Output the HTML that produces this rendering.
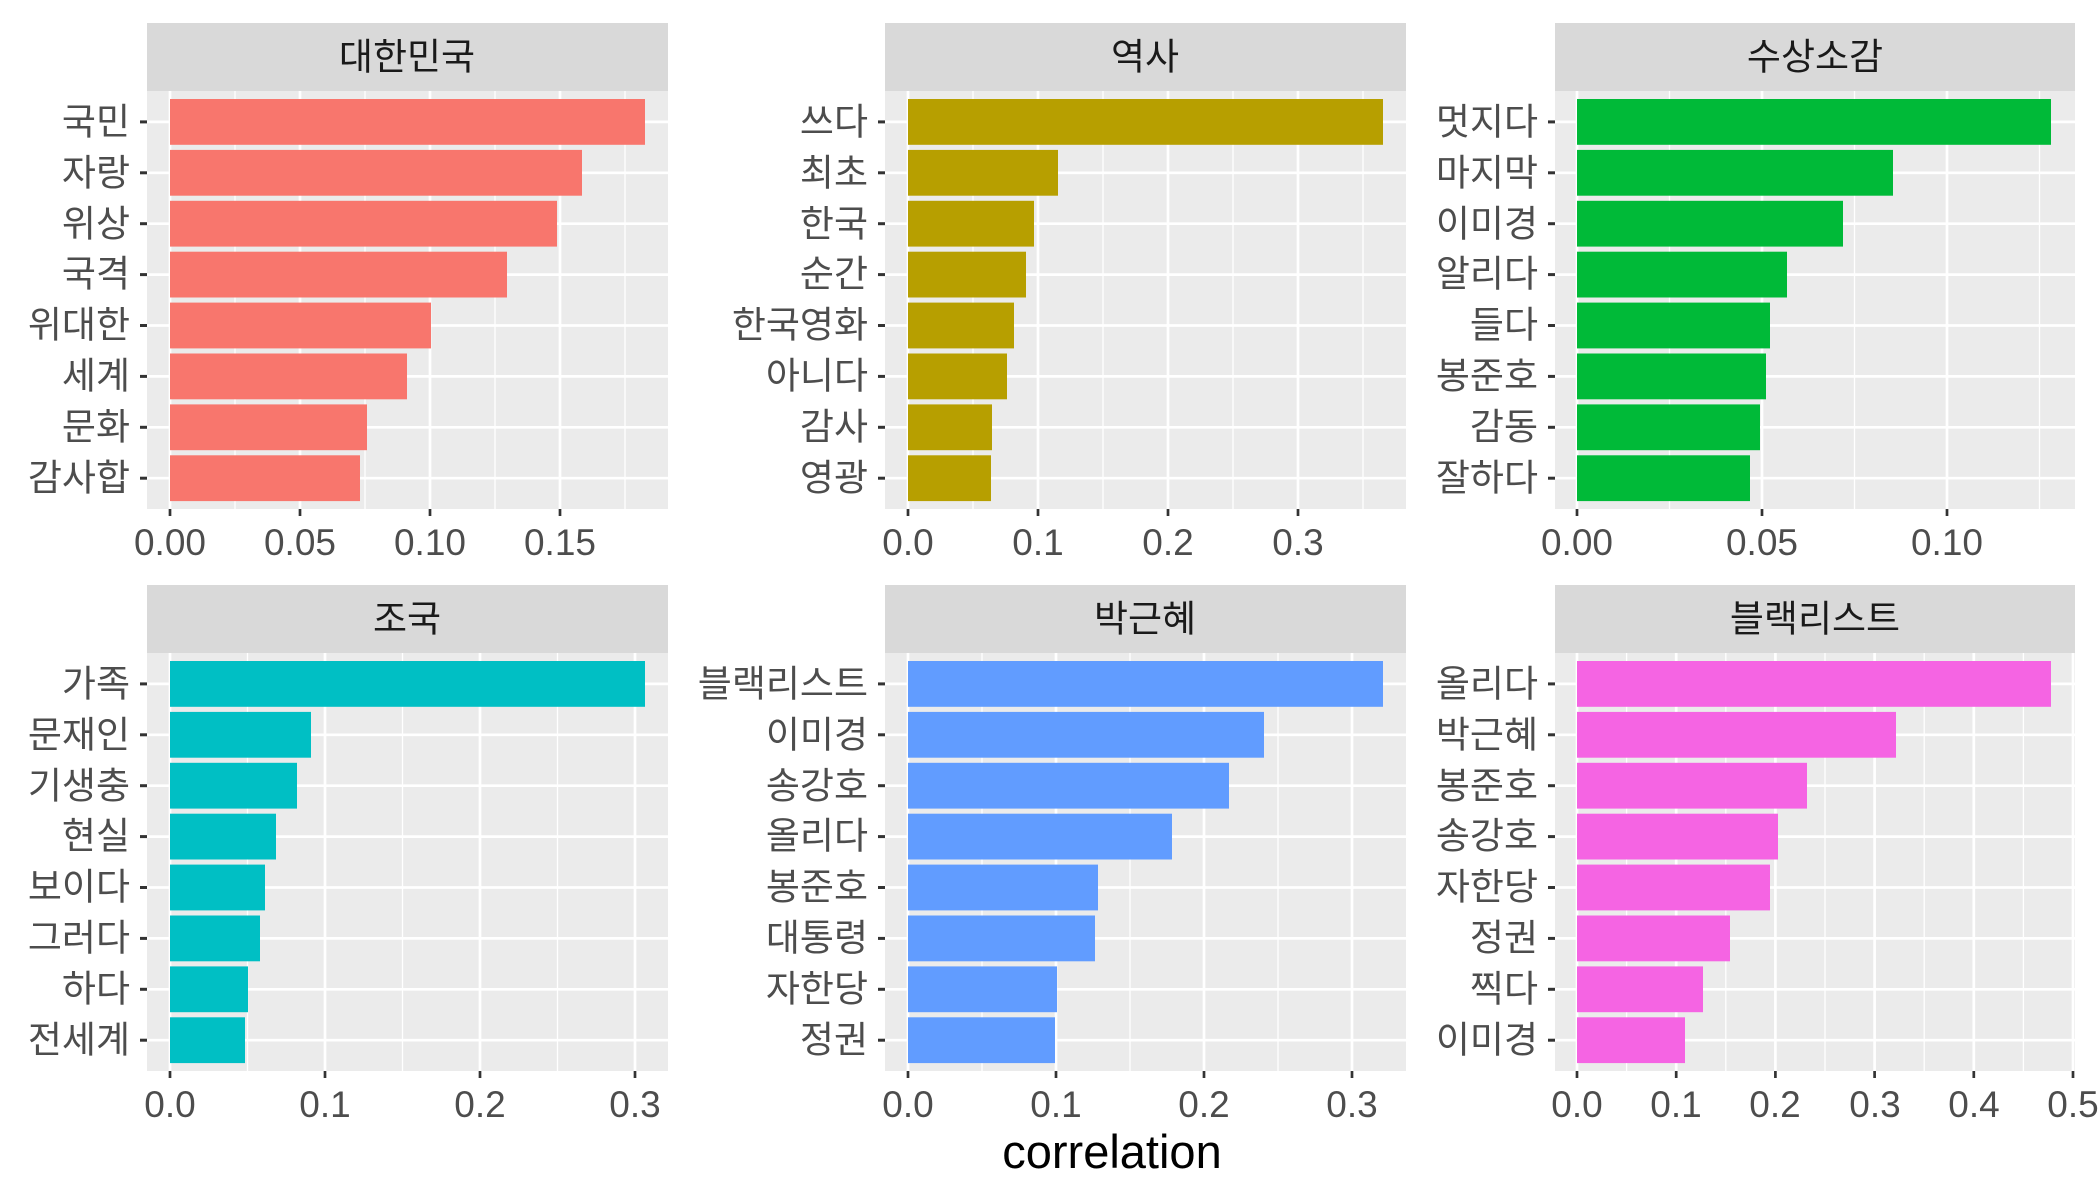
<!DOCTYPE html>
<html><head><meta charset="utf-8"><style>
body{margin:0;background:#fff}
svg{display:block}
text{font-family:"Liberation Sans","Noto Sans CJK KR",sans-serif;}
.yl{font-size:37px;fill:#4D4D4D;text-anchor:end;dominant-baseline:central}
.xl{font-size:37px;fill:#4D4D4D;text-anchor:middle}
.st{font-size:37px;fill:#1A1A1A;text-anchor:middle;dominant-baseline:central}
</style></head><body>
<svg id="s" width="2100" height="1200" xmlns="http://www.w3.org/2000/svg">
<g id="shapes"></g>
<text class="st" x="407" y="57">대한민국</text>
<text class="st" x="1145" y="57">역사</text>
<text class="st" x="1815" y="57">수상소감</text>
<text class="st" x="407" y="619">조국</text>
<text class="st" x="1145" y="619">박근혜</text>
<text class="st" x="1815" y="619">블랙리스트</text>
<g>
<text class="yl" x="130" y="122">국민</text><text class="yl" x="130" y="173">자랑</text><text class="yl" x="130" y="224">위상</text><text class="yl" x="130" y="274">국격</text><text class="yl" x="130" y="325">위대한</text><text class="yl" x="130" y="376">세계</text><text class="yl" x="130" y="427">문화</text><text class="yl" x="130" y="478">감사합</text>
<text class="yl" x="868" y="122">쓰다</text><text class="yl" x="868" y="173">최초</text><text class="yl" x="868" y="224">한국</text><text class="yl" x="868" y="274">순간</text><text class="yl" x="868" y="325">한국영화</text><text class="yl" x="868" y="376">아니다</text><text class="yl" x="868" y="427">감사</text><text class="yl" x="868" y="478">영광</text>
<text class="yl" x="1538" y="122">멋지다</text><text class="yl" x="1538" y="173">마지막</text><text class="yl" x="1538" y="224">이미경</text><text class="yl" x="1538" y="274">알리다</text><text class="yl" x="1538" y="325">들다</text><text class="yl" x="1538" y="376">봉준호</text><text class="yl" x="1538" y="427">감동</text><text class="yl" x="1538" y="478">잘하다</text>
<text class="yl" x="130" y="684">가족</text><text class="yl" x="130" y="735">문재인</text><text class="yl" x="130" y="786">기생충</text><text class="yl" x="130" y="836">현실</text><text class="yl" x="130" y="887">보이다</text><text class="yl" x="130" y="938">그러다</text><text class="yl" x="130" y="989">하다</text><text class="yl" x="130" y="1040">전세계</text>
<text class="yl" x="868" y="684">블랙리스트</text><text class="yl" x="868" y="735">이미경</text><text class="yl" x="868" y="786">송강호</text><text class="yl" x="868" y="836">올리다</text><text class="yl" x="868" y="887">봉준호</text><text class="yl" x="868" y="938">대통령</text><text class="yl" x="868" y="989">자한당</text><text class="yl" x="868" y="1040">정권</text>
<text class="yl" x="1538" y="684">올리다</text><text class="yl" x="1538" y="735">박근혜</text><text class="yl" x="1538" y="786">봉준호</text><text class="yl" x="1538" y="836">송강호</text><text class="yl" x="1538" y="887">자한당</text><text class="yl" x="1538" y="938">정권</text><text class="yl" x="1538" y="989">찍다</text><text class="yl" x="1538" y="1040">이미경</text>
</g>
<text class="xl" x="170" y="555">0.00</text><text class="xl" x="300" y="555">0.05</text><text class="xl" x="430" y="555">0.10</text><text class="xl" x="560" y="555">0.15</text>
<text class="xl" x="908" y="555">0.0</text><text class="xl" x="1038" y="555">0.1</text><text class="xl" x="1168" y="555">0.2</text><text class="xl" x="1298" y="555">0.3</text>
<text class="xl" x="1577" y="555">0.00</text><text class="xl" x="1762" y="555">0.05</text><text class="xl" x="1947" y="555">0.10</text>
<text class="xl" x="170" y="1117">0.0</text><text class="xl" x="325" y="1117">0.1</text><text class="xl" x="480" y="1117">0.2</text><text class="xl" x="635" y="1117">0.3</text>
<text class="xl" x="908" y="1117">0.0</text><text class="xl" x="1056" y="1117">0.1</text><text class="xl" x="1204" y="1117">0.2</text><text class="xl" x="1352" y="1117">0.3</text>
<text class="xl" x="1577" y="1117">0.0</text><text class="xl" x="1676" y="1117">0.1</text><text class="xl" x="1775" y="1117">0.2</text><text class="xl" x="1875" y="1117">0.3</text><text class="xl" x="1974" y="1117">0.4</text><text class="xl" x="2073" y="1117">0.5</text>
<text x="1112" y="1168" style="font-size:47px;fill:#000;text-anchor:middle">correlation</text>
</svg>
<script>
var g=document.getElementById('shapes'),NS='http://www.w3.org/2000/svg';
function el(t,a){var e=document.createElementNS(NS,t);for(var k in a)e.setAttribute(k,a[k]);g.appendChild(e);return e;}
var P=[
{x0:147,x1:668,y:91,z:170,step:130,n:4,c:'#F8766D',w:[475,412,387,337,261,237,197,190]},
{x0:885,x1:1406,y:91,z:908,step:130,n:4,c:'#B79F00',w:[475,150,126,118,106,99,84,83]},
{x0:1555,x1:2075,y:91,z:1577,step:185,n:3,c:'#00BA38',w:[474,316,266,210,193,189,183,173]},
{x0:147,x1:668,y:653,z:170,step:155,n:4,c:'#00BFC4',w:[475,141,127,106,95,90,78,75]},
{x0:885,x1:1406,y:653,z:908,step:148,n:4,c:'#619CFF',w:[475,356,321,264,190,187,149,147]},
{x0:1555,x1:2075,y:653,z:1577,step:99.2,n:6,c:'#F564E3',w:[474,319,230,201,193,153,126,108]}];
P.forEach(function(p){
 var h=418;
 el('rect',{x:p.x0,y:p.y-68,width:p.x1-p.x0,height:68,fill:'#D9D9D9'});
 el('rect',{x:p.x0,y:p.y,width:p.x1-p.x0,height:h,fill:'#EBEBEB'});
 for(var k=-1;k<=p.n;k++){var mx=p.z+(k+0.5)*p.step;if(mx>p.x0&&mx<p.x1)el('line',{x1:mx,x2:mx,y1:p.y,y2:p.y+h,stroke:'#fff','stroke-width':1.3});}
 for(var k=0;k<p.n;k++){var mx=p.z+k*p.step;el('line',{x1:mx,x2:mx,y1:p.y,y2:p.y+h,stroke:'#fff','stroke-width':2.7});
  el('line',{x1:mx,x2:mx,y1:p.y+h,y2:p.y+h+7,stroke:'#333','stroke-width':2.7});}
 for(var i=0;i<8;i++){var cy=p.y+8+i*50.9+22.9;
  el('line',{x1:p.x0,x2:p.x1,y1:cy,y2:cy,stroke:'#fff','stroke-width':2.7});
  el('line',{x1:p.x0-7,x2:p.x0,y1:cy,y2:cy,stroke:'#333','stroke-width':3});}
 for(var i=0;i<8;i++){var cy=p.y+8+i*50.9;
  el('rect',{x:p.z,y:cy,width:p.w[i],height:45.8,fill:p.c});}
});
</script>
</body></html>
